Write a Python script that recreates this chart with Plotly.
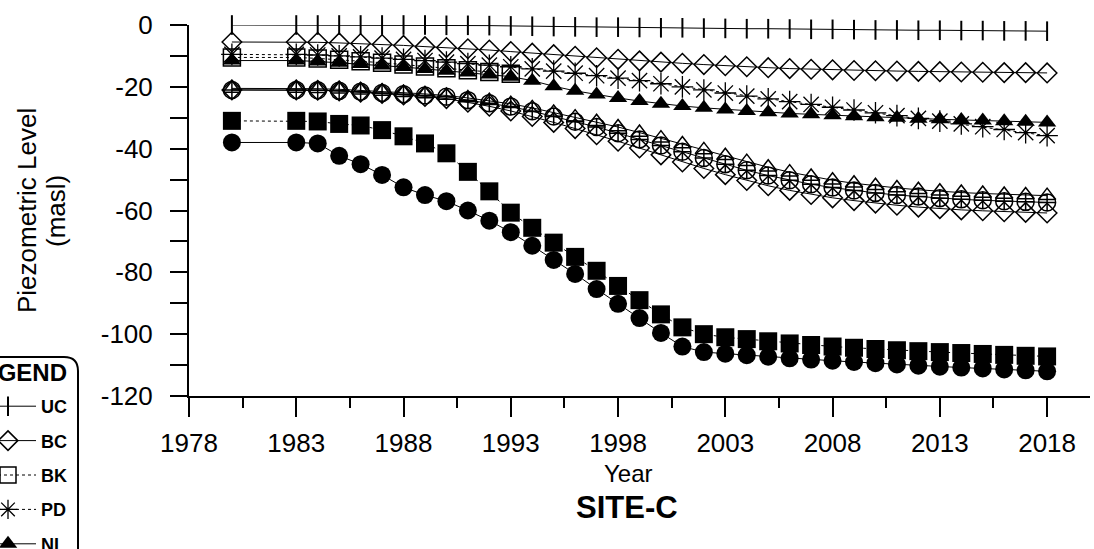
import plotly.graph_objects as go

# ---- data -------------------------------------------------------------
years = [1980, 1983, 1984, 1985, 1986, 1987, 1988, 1989, 1990, 1991, 1992,
         1993, 1994, 1995, 1996, 1997, 1998, 1999, 2000, 2001, 2002, 2003,
         2004, 2005, 2006, 2007, 2008, 2009, 2010, 2011, 2012, 2013, 2014,
         2015, 2016, 2017, 2018]
bk_years = [1980, 1983, 1984, 1985, 1986, 1987, 1988, 1989, 1990, 1991,
            1992, 1993]

uc = [0, 0, 0, 0, 0, 0, 0, 0, -0.1, -0.1, -0.2, -0.3, -0.4, -0.5, -0.6,
      -0.7, -0.7, -0.8, -0.9, -0.9, -1.0, -1.1, -1.2, -1.2, -1.3, -1.4,
      -1.4, -1.5, -1.6, -1.6, -1.7, -1.7, -1.8, -1.8, -1.9, -1.9, -2.0]
bc = [-5.5, -5.5, -5.6, -5.8, -6.0, -6.3, -6.6, -7.0, -7.3, -7.7, -8.1,
      -8.6, -9.1, -9.6, -10.1, -10.6, -11.1, -11.6, -12.0, -12.4, -12.8,
      -13.2, -13.5, -13.8, -14.1, -14.3, -14.5, -14.7, -14.8, -14.9, -15.0,
      -15.1, -15.2, -15.3, -15.4, -15.4, -15.5]
bk = [-10.5, -10.5, -10.8, -11.2, -11.7, -12.2, -12.8, -13.4, -14.0, -14.6,
      -15.2, -15.8]
pd_ = [-9.5, -9.5, -9.7, -10.0, -10.3, -10.7, -11.1, -11.5, -12.0, -12.5,
       -13.0, -13.5, -14.2, -14.9, -15.6, -16.4, -17.2, -18.0, -19.0, -20.0,
       -21.0, -22.0, -23.0, -23.9, -24.8, -25.7, -26.6, -27.5, -28.4, -29.3,
       -30.2, -31.1, -32.0, -32.9, -33.8, -34.8, -35.8]
ni = [-11.5, -11.5, -11.8, -12.2, -12.6, -13.1, -13.6, -14.2, -14.8, -15.4,
      -16.0, -16.7, -18.0, -19.8, -21.3, -22.5, -23.6, -24.6, -25.5, -26.2,
      -26.8, -27.3, -27.8, -28.2, -28.6, -28.9, -29.2, -29.5, -29.8, -30.0,
      -30.3, -30.5, -30.7, -30.9, -31.1, -31.3, -31.5]
s_cross = [-21.0, -21.0, -21.1, -21.3, -21.6, -22.0, -22.4, -22.8, -23.2,
           -24.3, -25.3, -26.4, -27.9, -29.6, -31.3, -33.0, -35.0, -37.0,
           -39.0, -41.0, -43.0, -45.0, -47.0, -48.7, -50.2, -51.5, -52.6,
           -53.5, -54.3, -55.0, -55.5, -56.0, -56.4, -56.7, -57.0, -57.2,
           -57.4]
s_tri = [-20.5, -20.5, -20.6, -20.8, -21.1, -21.5, -21.9, -22.3, -22.8,
         -23.6, -24.5, -25.5, -26.8, -28.3, -29.8, -31.3, -33.0, -34.8,
         -36.6, -38.5, -40.4, -42.3, -44.2, -46.0, -47.6, -49.0, -50.2,
         -51.2, -52.0, -52.7, -53.3, -53.8, -54.2, -54.5, -54.8, -55.0,
         -55.2]
s_dia = [-21.0, -21.0, -21.1, -21.3, -21.7, -22.1, -22.6, -23.1, -23.8,
         -25.0, -26.3, -27.8, -29.6, -31.5, -33.5, -35.5, -37.6, -39.8,
         -42.0, -44.3, -46.4, -48.4, -50.3, -52.0, -53.5, -54.8, -55.9,
         -56.8, -57.6, -58.3, -58.9, -59.4, -59.8, -60.1, -60.4, -60.6,
         -60.8]
s_sq = [-31.0, -31.0, -31.2, -32.0, -32.5, -34.0, -36.0, -38.3, -41.5,
        -47.5, -53.8, -60.7, -65.6, -70.4, -75.0, -79.5, -84.4, -89.0,
        -93.6, -97.8, -100.0, -101.0, -101.6, -102.3, -103.0, -103.5,
        -104.0, -104.4, -104.8, -105.2, -105.5, -105.8, -106.1, -106.4,
        -106.7, -107.0, -107.2]
s_circ = [-38.0, -38.0, -38.3, -42.3, -45.0, -48.5, -52.5, -55.0, -57.0,
          -60.0, -63.3, -67.0, -71.4, -76.0, -80.5, -85.4, -90.2, -94.8,
          -99.6, -104.0, -105.8, -106.3, -106.8, -107.3, -107.8, -108.2,
          -108.6, -109.0, -109.4, -109.8, -110.2, -110.5, -110.8, -111.1,
          -111.4, -111.7, -112.0]

y_ticks = [0, -20, -40, -60, -80, -100, -120]
y_labels = ["0", "-20", "-40", "-60", "-80", "-100", "-120"]

FONT = "Liberation Sans, Arial, sans-serif"
INK = "black"

# ---- page geometry (pixels) ------------------------------------------
W, H = 1094, 549
ML, MR, MT, MB = 189, 4, 25, 153
PW, PH = W - ML - MR, H - MT - MB


def px_x(px):
    return (px - ML) / PW


def px_y(py):
    return (H - MB - py) / PH


fig = go.Figure()


def add(x, y, name, symbol, size, dash="solid", lw=1.0, mlw=1.5,
        legend=True):
    fig.add_trace(go.Scatter(
        x=x, y=y, name=name, mode="lines+markers", cliponaxis=False,
        legendgroup=name, showlegend=legend,
        line=dict(color=INK, width=lw, dash=dash),
        marker=dict(symbol=symbol, size=size, color=INK,
                    line=dict(color=INK, width=mlw)),
    ))


add(years, uc, "UC", "line-ns-open", 14, mlw=2)
add(years, bc, "BC", "diamond-open", 15)
add(bk_years, bk, "BK", "square-open", 17, dash="dot")
add(years, pd_, "PD", "asterisk-open", 18, dash="dot", mlw=1.3)
add(years, ni, "NI", "triangle-up", 16, mlw=0)
add(years, s_cross, "circle-cross", "circle-cross-open", 17, legend=False)
add(years, s_tri, "triangle", "triangle-up-open", 15, legend=False)
add(years, s_dia, "diamond", "diamond-open", 15, legend=False)
add(years, s_sq, "square", "square", 18, dash="dot", mlw=0, legend=False)
add(years, s_circ, "circle", "circle", 18, mlw=0, legend=False)

fig.update_layout(
    width=W, height=H,
    margin=dict(l=ML, r=MR, t=MT, b=MB, autoexpand=False),
    paper_bgcolor="white", plot_bgcolor="white",
    font=dict(family=FONT, color=INK),
    legend=dict(
        x=px_x(-25), y=px_y(388), xanchor="left", yanchor="top",
        font=dict(family=FONT, size=18, color=INK, weight="bold"),
        tracegroupgap=8, bgcolor="rgba(0,0,0,0)", borderwidth=0,
        itemwidth=56, traceorder="grouped",
    ),
    xaxis=dict(
        range=[1978, 2020], tick0=1978, dtick=5, ticks="outside",
        ticklen=19, tickwidth=2, tickcolor=INK, showline=True, linewidth=2,
        linecolor=INK, showgrid=False, zeroline=False,
        tickfont=dict(size=26, family=FONT, color=INK),
        ticklabelstandoff=4,
        minor=dict(tick0=1978, dtick=2.5, ticks="outside", ticklen=10,
                   tickwidth=2, tickcolor=INK, showgrid=False),
    ),
    yaxis=dict(
        range=[-120, 0], tickvals=y_ticks, ticktext=y_labels,
        ticks="outside", ticklen=17, tickwidth=2, tickcolor=INK,
        showline=True, linewidth=2, linecolor=INK, showgrid=False,
        zeroline=False, tickfont=dict(size=26, family=FONT, color=INK),
        ticklabelstandoff=12,
        minor=dict(dtick=10, ticks="outside", ticklen=17, tickwidth=2,
                   tickcolor=INK, showgrid=False),
    ),
)

# rounded legend frame (top and right edges)
r = 14
fig.add_shape(
    type="path", xref="paper", yref="paper",
    path=(f"M {px_x(78)},{px_y(580)} L {px_x(78)},{px_y(357 + r)} "
          f"Q {px_x(78)},{px_y(357)} {px_x(78 - r)},{px_y(357)} "
          f"L {px_x(-20)},{px_y(357)}"),
    line=dict(color=INK, width=2),
)

ann = [
    dict(text="LEGEND", x=px_x(69), y=px_y(372), xanchor="right",
         yanchor="middle", font=dict(size=24, weight="bold")),
    dict(text="Piezometric Level", x=px_x(27), y=px_y(211), textangle=-90,
         xanchor="center", yanchor="middle", font=dict(size=26)),
    dict(text="(masl)", x=px_x(56), y=px_y(211), textangle=-90,
         xanchor="center", yanchor="middle", font=dict(size=26)),
    dict(text="Year", x=px_x(628), y=px_y(474), xanchor="center",
         yanchor="middle", font=dict(size=24)),
    dict(text="SITE-C", x=px_x(627), y=px_y(507), xanchor="center",
         yanchor="middle", font=dict(size=31, weight="bold")),
]
for a in ann:
    a.update(xref="paper", yref="paper", showarrow=False)
    a["font"].update(family=FONT, color=INK)
    fig.add_annotation(**a)

fig.write_html("out.html")
